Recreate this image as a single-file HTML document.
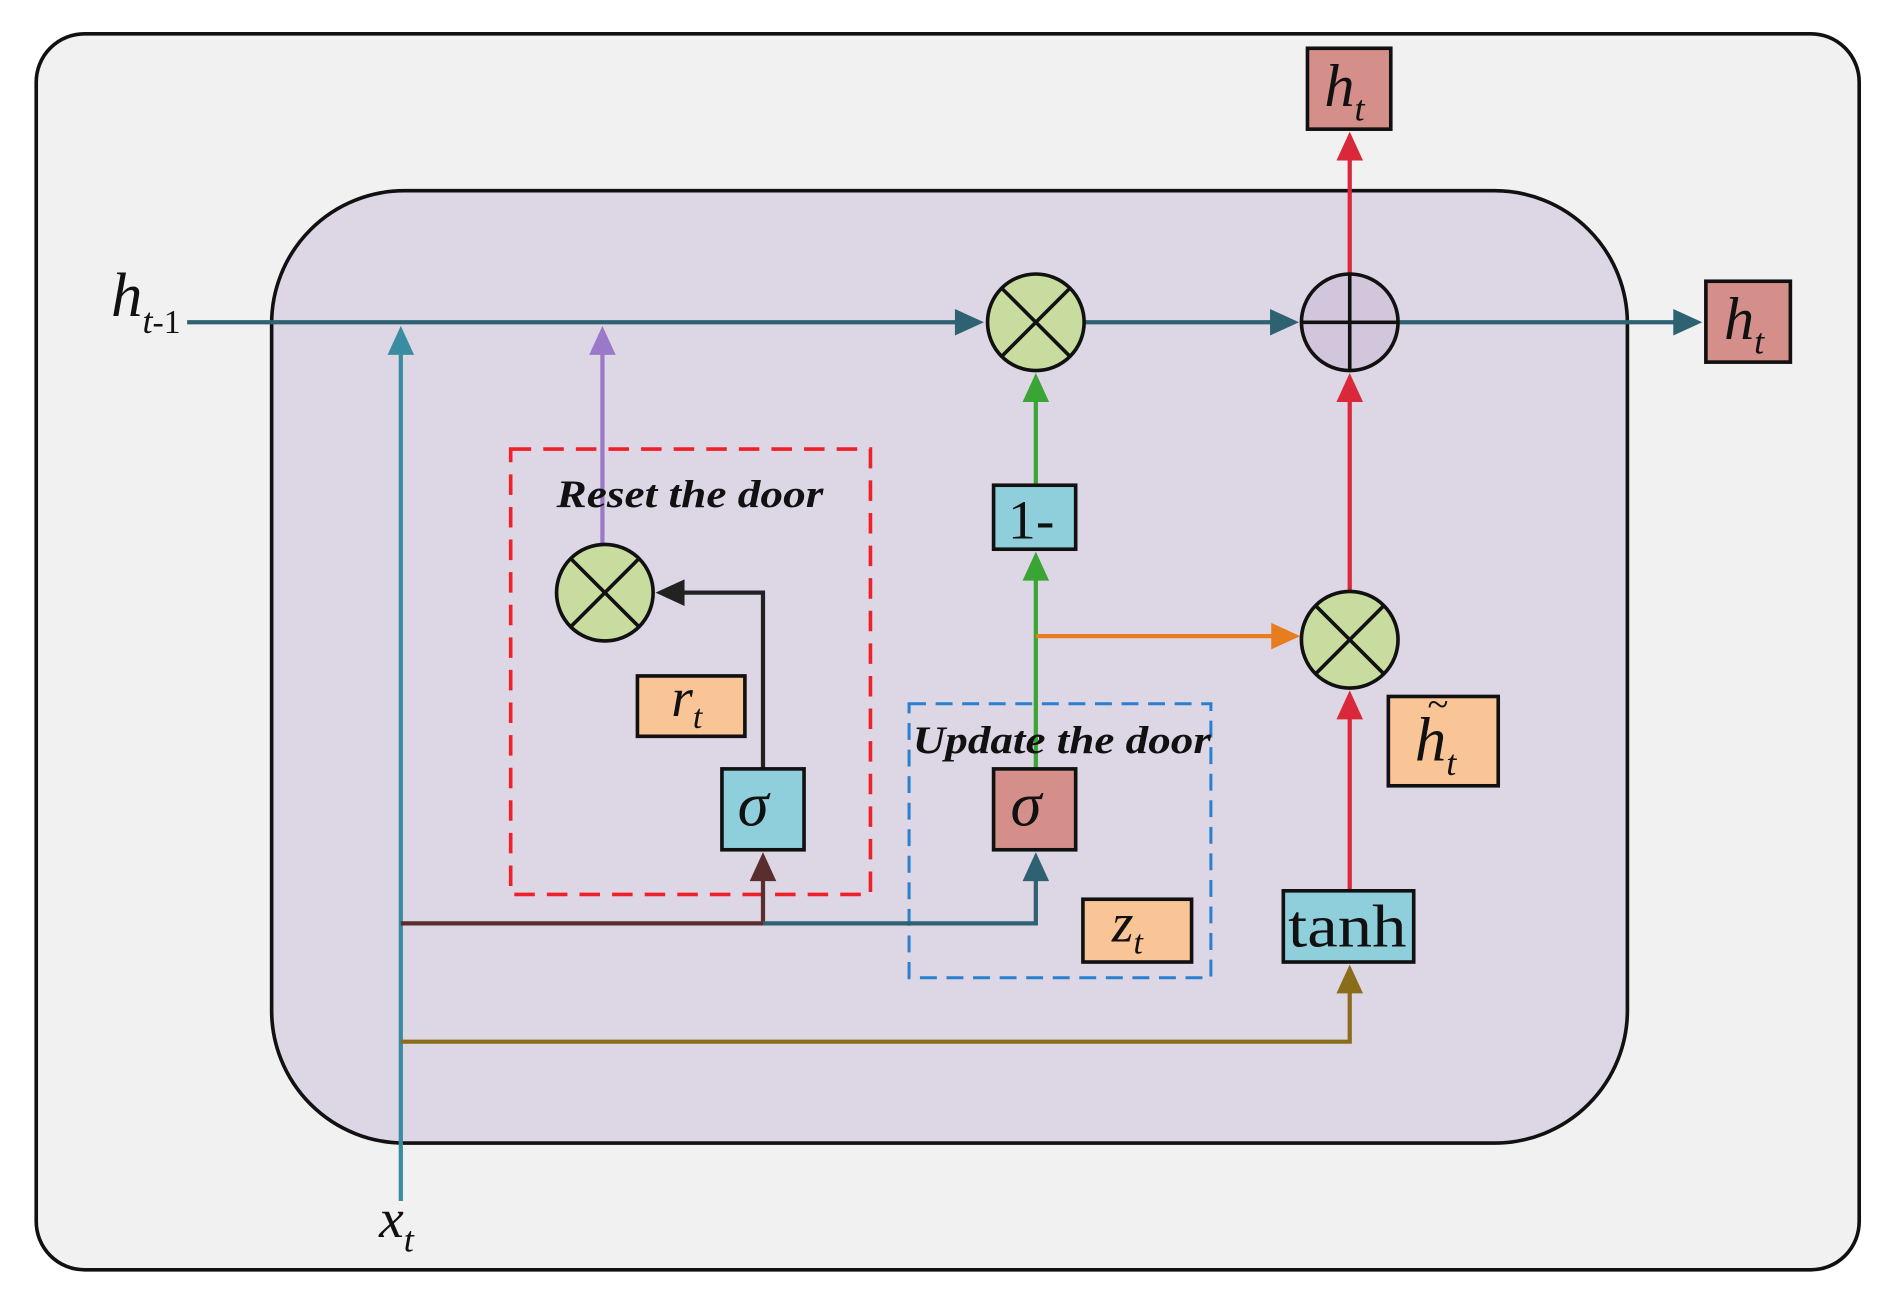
<!DOCTYPE html>
<html><head><meta charset="utf-8"><style>
html,body{margin:0;padding:0;background:#fff;}
svg{display:block;}
text{font-family:"Liberation Serif",serif;}
</style></head><body>
<svg width="1893" height="1300" viewBox="0 0 1568 1077" preserveAspectRatio="none" xmlns="http://www.w3.org/2000/svg">
<rect x="0" y="0" width="1568" height="1077" fill="#fff"/>
<rect x="30" y="28" width="1510" height="1024" rx="40" fill="#f1f1f1" stroke="#111" stroke-width="3"/>
<rect x="225" y="158" width="1123" height="789" rx="110" fill="#ddd6e4" stroke="#111" stroke-width="3"/>

<rect x="423" y="372" width="298" height="369" fill="none" stroke="#f0202a" stroke-width="3" stroke-dasharray="17,10"/>
<rect x="753" y="583" width="250" height="227" fill="none" stroke="#2a7fd0" stroke-width="2.5" stroke-dasharray="14,8"/>

<line x1="155" y1="267" x2="805" y2="267" stroke="#2e6272" stroke-width="3.5"/>
<polygon points="815,267 791,256 791,278" fill="#2e6272"/>
<line x1="898" y1="267" x2="1065" y2="267" stroke="#2e6272" stroke-width="3.5"/>
<polygon points="1076,267 1052,256 1052,278" fill="#2e6272"/>
<line x1="1158" y1="267" x2="1398" y2="267" stroke="#2e6272" stroke-width="3.5"/>
<polygon points="1410,267 1386,256 1386,278" fill="#2e6272"/>

<line x1="332" y1="995" x2="332" y2="285" stroke="#3a8ca0" stroke-width="3.5"/>
<polygon points="332,270 321,294 343,294" fill="#3a8ca0"/>
<line x1="499" y1="452" x2="499" y2="285" stroke="#9a7ac8" stroke-width="3.5"/>
<polygon points="499,270 488,294 510,294" fill="#9a7ac8"/>

<polyline points="332,765 632,765 632,720" fill="none" stroke="#5a2e2e" stroke-width="3.5"/>
<polygon points="632,706 621,730 643,730" fill="#5a2e2e"/>
<polyline points="632,765 858,765 858,720" fill="none" stroke="#2e6272" stroke-width="3.5"/>
<polygon points="858,706 847,730 869,730" fill="#2e6272"/>
<polyline points="332,863 1118,863 1118,815" fill="none" stroke="#8a6d1a" stroke-width="3.5"/>
<polygon points="1118,799 1107,823 1129,823" fill="#8a6d1a"/>

<polyline points="632,637 632,491 565,491" fill="none" stroke="#222" stroke-width="3.5"/>
<polygon points="543,491 567,480 567,502" fill="#222"/>

<line x1="858" y1="637" x2="858" y2="472" stroke="#3aa535" stroke-width="3.5"/>
<polygon points="858,457 847,481 869,481" fill="#3aa535"/>
<line x1="858" y1="402" x2="858" y2="325" stroke="#3aa535" stroke-width="3.5"/>
<polygon points="858,309 847,333 869,333" fill="#3aa535"/>
<line x1="858" y1="527" x2="1062" y2="527" stroke="#e87d1f" stroke-width="3.5"/>
<polygon points="1077,527 1053,516 1053,538" fill="#e87d1f"/>

<line x1="1118" y1="738" x2="1118" y2="588" stroke="#d8283a" stroke-width="3.5"/>
<polygon points="1118,572 1107,596 1129,596" fill="#d8283a"/>
<line x1="1118" y1="490" x2="1118" y2="325" stroke="#d8283a" stroke-width="3.5"/>
<polygon points="1118,309 1107,333 1129,333" fill="#d8283a"/>
<line x1="1118" y1="228" x2="1118" y2="125" stroke="#d8283a" stroke-width="3.5"/>
<polygon points="1118,109 1107,133 1129,133" fill="#d8283a"/>

<g stroke="#111" stroke-width="3">
<circle cx="858" cy="267" r="40" fill="#c8dca0"/>
<line x1="830" y1="239" x2="886" y2="295"/><line x1="886" y1="239" x2="830" y2="295"/>
<circle cx="1118" cy="267" r="40" fill="#d2c6dc"/>
<line x1="1078" y1="267" x2="1158" y2="267"/><line x1="1118" y1="227" x2="1118" y2="307"/>
<circle cx="1118" cy="530" r="40" fill="#c8dca0"/>
<line x1="1090" y1="502" x2="1146" y2="558"/><line x1="1146" y1="502" x2="1090" y2="558"/>
<circle cx="501" cy="491" r="40" fill="#c8dca0"/>
<line x1="473" y1="463" x2="529" y2="519"/><line x1="529" y1="463" x2="473" y2="519"/>
</g>

<g stroke="#111" stroke-width="3">
<rect x="1083" y="40" width="69" height="67" fill="#d48f8a"/>
<rect x="1413" y="233" width="70" height="67" fill="#d48f8a"/>
<rect x="823" y="402" width="68" height="53" fill="#8fcfdb"/>
<rect x="598" y="637" width="68" height="67" fill="#8fcfdb"/>
<rect x="823" y="637" width="68" height="67" fill="#d48f8a"/>
<rect x="528" y="560" width="89" height="50" fill="#f9c597"/>
<rect x="897" y="745" width="90" height="52" fill="#f9c597"/>
<rect x="1150" y="577" width="91" height="74" fill="#f9c597"/>
<rect x="1063" y="738" width="108" height="59" fill="#8fcfdb"/>
</g>

<g font-style="italic" fill="#111">
<text x="1097" y="88" font-size="50">h<tspan font-size="30" dy="12">t</tspan></text>
<text x="1428" y="281" font-size="50">h<tspan font-size="30" dy="12">t</tspan></text>
<text x="92" y="262" font-size="52">h<tspan font-size="30" dy="14">t</tspan><tspan font-style="normal" font-size="28">-1</tspan></text>
<text x="314" y="1025" font-size="46">x<tspan font-size="30" dy="12">t</tspan></text>
<text x="611" y="684" font-size="52">σ</text>
<text x="837" y="684" font-size="52">σ</text>
<text x="556" y="593" font-size="46">r<tspan font-size="28" dy="10">t</tspan></text>
<text x="921" y="780" font-size="46">z<tspan font-size="28" dy="10">t</tspan></text>
<text x="1172" y="630" font-size="52">h<tspan font-size="30" dy="12">t</tspan></text>
<text x="1182" y="594" font-size="32">~</text>
<text x="461" y="420" font-size="32" font-weight="bold" textLength="221" lengthAdjust="spacingAndGlyphs">Reset the door</text>
<text x="756" y="624" font-size="32" font-weight="bold" textLength="247" lengthAdjust="spacingAndGlyphs">Update the door</text>
</g>
<text x="835" y="446" font-size="46" fill="#111">1-</text>
<text x="1067" y="784" font-size="50" fill="#111" textLength="98" lengthAdjust="spacingAndGlyphs">tanh</text>
</svg>
</body></html>
